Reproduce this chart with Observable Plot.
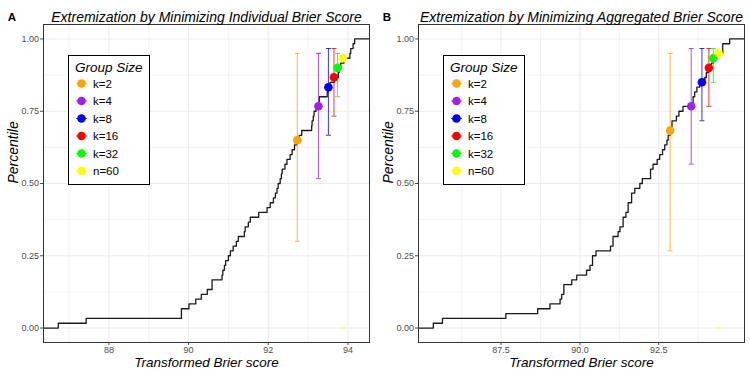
<!DOCTYPE html>
<html><head><meta charset="utf-8">
<script src="https://cdn.jsdelivr.net/npm/d3@7"></script>
<script src="https://cdn.jsdelivr.net/npm/@observablehq/plot@0.6"></script>
<style>
body{margin:0;background:#fff;font-family:"Liberation Sans",Arial,sans-serif;}
#wrap{display:flex;width:750px;height:375px;}
#wrap svg{display:block;}
</style></head><body><div id="wrap"></div>
<script>
const groups = ["k=2", "k=4", "k=8", "k=16", "k=32", "n=60"];
const colors = ["#FFA500", "#A020F0", "#0000FF", "#FF0000", "#00FF00", "#FFFF00"];

// Panel A: individual Brier score (transformed), 60 forecasters
const scoresA = [86.73, 87.43, 89.82, 89.82, 90.01, 90.18, 90.32, 90.47, 90.59, 90.59,
  90.84, 90.86, 90.90, 90.93, 91.00, 91.05, 91.12, 91.20, 91.25, 91.40,
  91.42, 91.50, 91.55, 91.76, 91.97, 92.05, 92.13, 92.18, 92.22, 92.25,
  92.30, 92.33, 92.35, 92.42, 92.47, 92.55, 92.60, 92.66, 92.72, 92.78,
  92.84, 93.09, 93.10, 93.13, 93.15, 93.20, 93.27, 93.28, 93.48, 93.50,
  93.55, 93.66, 93.76, 93.78, 93.82, 93.90, 94.05, 94.07, 94.13, 94.17];
const estXA = [92.73, 93.26, 93.51, 93.65, 93.74, 93.875];
const estYA = [0.650, 0.767, 0.833, 0.867, 0.900, 0.933];
const lowA  = [0.300, 0.517, 0.667, 0.733, 0.800, 0];
const highA = [0.950, 0.950, 0.967, 0.967, 0.950, 0];
const xTicksA = [88, 90, 92, 94];
const xMinorA = [87, 89, 91, 93];

// Panel B: aggregated Brier score (transformed)
const scoresB = [85.35, 85.64, 87.65, 88.66, 89.05, 89.37, 89.42, 89.49, 89.49, 89.74,
  89.90, 90.21, 90.32, 90.40, 90.40, 90.51, 90.97, 91.05, 91.05, 91.21,
  91.27, 91.37, 91.37, 91.46, 91.53, 91.53, 91.64, 91.64, 91.74, 91.90,
  91.98, 92.24, 92.24, 92.32, 92.45, 92.53, 92.62, 92.69, 92.76, 92.80,
  92.86, 92.92, 92.92, 93.06, 93.14, 93.27, 93.59, 93.59, 93.64, 93.71,
  93.80, 93.96, 94.01, 94.08, 94.17, 94.24, 94.33, 94.53, 94.53, 94.75];
const estXB = [92.86, 93.53, 93.87, 94.09, 94.23, 94.40];
const estYB = [0.683, 0.767, 0.850, 0.900, 0.933, 0.950];
const lowB  = [0.267, 0.567, 0.717, 0.767, 0.850, 0];
const highB = [0.950, 0.967, 0.967, 0.967, 0.967, 0];
const xTicksB = [87.5, 90, 92.5];
const xMinorB = [86.25, 88.75, 91.25, 93.75];

const yTicks = [0, 0.25, 0.5, 0.75, 1];
const yMinor = [0.125, 0.375, 0.625, 0.875];

const titleA = "Extremization by Minimizing Individual Brier Score";
const titleB = "Extremization by Minimizing Aggregated Brier Score";
const yLabel = "Percentile";
const xLabel = "Transformed Brier score";

const capSymbol = {draw(ctx, size) { const r = Math.sqrt(size / Math.PI); ctx.moveTo(-r, 0); ctx.lineTo(r, 0); }};

function makePanel(letter, title, scores, ex, ey, lo, hi, xTicks, xMinor, xFormat) {
  const n = scores.length;
  const sorted = scores.slice().sort((a, b) => a - b);
  const lim = d3.extent(sorted);
  const pad = (lim[1] - lim[0]) * 0.05;
  const dom = [lim[0] - pad, lim[1] + pad];
  const ecdf = [{x: dom[0], y: 0}];
  for (const v of Array.from(new Set(sorted))) ecdf.push({x: v, y: sorted.filter(s => s <= v).length / n});
  ecdf.push({x: dom[1], y: 1});
  const est = groups.map((g, i) => ({g, x: ex[i], y: ey[i], lo: lo[i], hi: hi[i]}));
  const bars = est.filter(d => d.hi > d.lo);
  const caps = est.flatMap(d => d.hi > d.lo ? [{g: d.g, x: d.x, y: d.lo}, {g: d.g, x: d.x, y: d.hi}] : [{g: d.g, x: d.x, y: d.lo}]);
  const font = "Liberation Sans, Arial, sans-serif";
  const plot = Plot.plot({
    width: 375, height: 375,
    marginLeft: 43, marginRight: 6, marginTop: 24, marginBottom: 33,
    style: {fontFamily: font, background: "white", overflow: "visible"},
    x: {domain: dom},
    y: {domain: [-0.05, 1.05]},
    color: {domain: groups, range: colors},
    marks: [
      Plot.gridX(xMinor, {stroke: "#ebebeb", strokeOpacity: 1, strokeWidth: 0.6}),
      Plot.gridY(yMinor, {stroke: "#ebebeb", strokeOpacity: 1, strokeWidth: 0.6}),
      Plot.gridX(xTicks, {stroke: "#ebebeb", strokeOpacity: 1, strokeWidth: 1.1}),
      Plot.gridY(yTicks, {stroke: "#ebebeb", strokeOpacity: 1, strokeWidth: 1.1}),
      Plot.axisX(xTicks, {tickFormat: xFormat, tickSize: 3, tickPadding: 1, fontSize: 9, color: "#4d4d4d", label: null}),
      Plot.axisY(yTicks, {tickFormat: d3.format(".2f"), tickSize: 3, tickPadding: 1.5, fontSize: 9, color: "#4d4d4d", label: null}),
      Plot.line(ecdf, {x: "x", y: "y", curve: "step-after", stroke: "#1a1a1a", strokeWidth: 1.3}),
      Plot.ruleX(bars, {x: "x", y1: "lo", y2: "hi", stroke: "g", strokeOpacity: 0.8, strokeWidth: 1}),
      Plot.dot(caps, {x: "x", y: "y", symbol: capSymbol, r: 2.5, stroke: "g", strokeOpacity: 0.8, strokeWidth: 1}),
      Plot.dot(est, {x: "x", y: "y", r: 4.3, fill: "g"}),
      Plot.frame({stroke: "#333", strokeWidth: 1}),
      Plot.text([title], {frameAnchor: "top", dy: -12, fontSize: 14, fontStyle: "italic", fill: "#000"}),
      Plot.text([letter], {frameAnchor: "top-left", dx: -31.5, dy: -12, fontSize: 11.5, fontWeight: "bold", textAnchor: "middle", fill: "#000"}),
      Plot.text([yLabel], {frameAnchor: "left", dx: -30, rotate: -90, fontSize: 14, fontStyle: "italic", fill: "#000"}),
      Plot.text([xLabel], {frameAnchor: "bottom", dy: 24, fontSize: 13.5, fontStyle: "italic", fill: "#000"})
    ]
  });
  // legend
  const svg = d3.select(plot);
  const lg = svg.append("g").attr("transform", "translate(68.5,55.5)").style("font-family", font).attr("text-anchor", "start");
  lg.append("rect").attr("width", 81).attr("height", 129).attr("fill", "white").attr("stroke", "black").attr("stroke-width", 1);
  lg.append("text").attr("x", 6.5).attr("y", 11.5).attr("dy", "0.35em").attr("text-anchor", "start").style("font-style", "italic").style("font-size", "13.5px").attr("fill", "#000").text("Group Size");
  groups.forEach((g, i) => {
    const y = 28 + i * 17.5;
    lg.append("line").attr("x1", 7.5).attr("x2", 18.5).attr("y1", y).attr("y2", y).attr("stroke", colors[i]).attr("stroke-opacity", 0.8);
    lg.append("circle").attr("cx", 13).attr("cy", y).attr("r", 4.3).attr("fill", colors[i]);
    lg.append("text").attr("x", 24.5).attr("y", y).attr("dy", "0.35em").attr("text-anchor", "start").style("font-size", "11.5px").attr("fill", "#000").text(g);
  });
  return plot;
}

const wrap = document.getElementById("wrap");
wrap.appendChild(makePanel("A", titleA, scoresA, estXA, estYA, lowA, highA, xTicksA, xMinorA, d3.format("d")));
wrap.appendChild(makePanel("B", titleB, scoresB, estXB, estYB, lowB, highB, xTicksB, xMinorB, d3.format(".1f")));
</script>
</body></html>
